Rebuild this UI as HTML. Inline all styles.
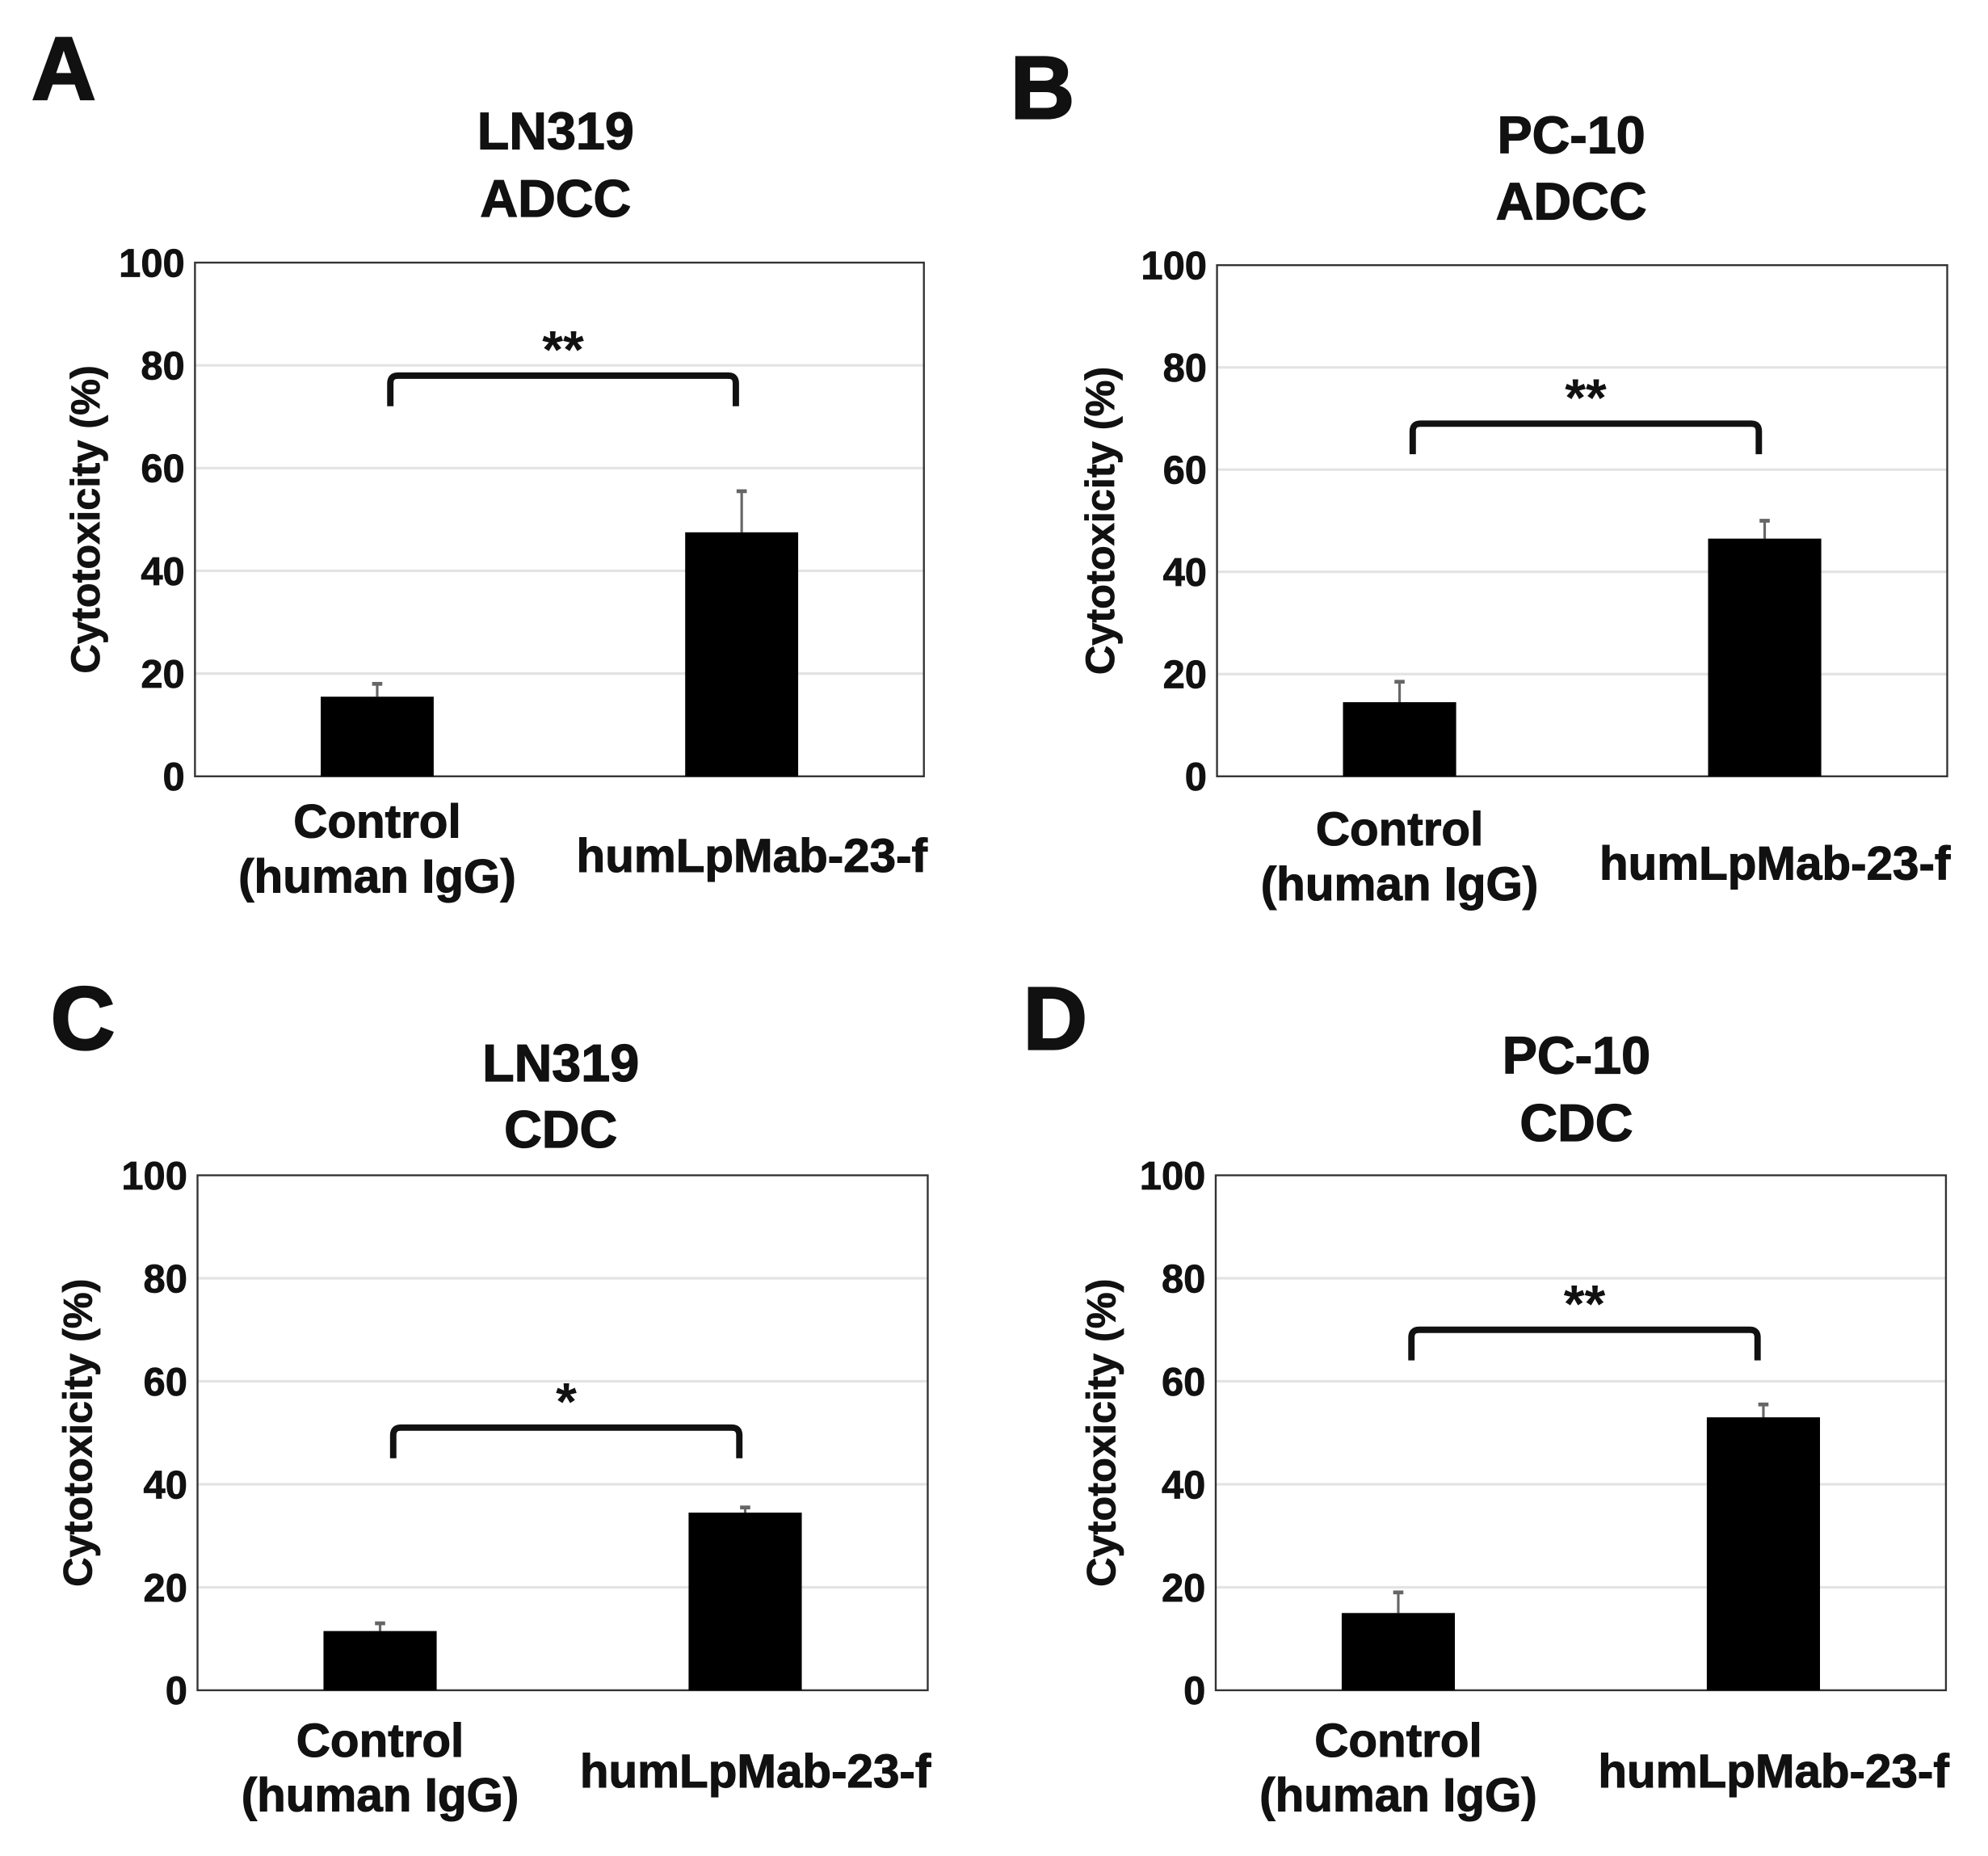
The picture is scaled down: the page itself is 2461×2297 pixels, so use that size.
<!DOCTYPE html>
<html><head><meta charset="utf-8"><style>
html,body{margin:0;padding:0;background:#fff}
svg{display:block}
text{font-family:"Liberation Sans",Arial,sans-serif;font-weight:bold;fill:#111}
</style></head><body>
<svg id="fig" width="2461" height="2297" viewBox="0 0 1560 1456" xmlns="http://www.w3.org/2000/svg"></svg>
<script>
const categories = ["Control|(human IgG)", "humLpMab-23-f"];
const yTicks = [0, 20, 40, 60, 80, 100];
const panelLetters = ["A", "B", "C", "D"];
const panelTitles = [["LN319","ADCC"],["PC-10","ADCC"],["LN319","CDC"],["PC-10","CDC"]];
const meansA = [15.5, 47.5];
const errsA = [2.5, 8];
const meansB = [14.5, 46.5];
const errsB = [4, 3.5];
const meansC = [11.5, 34.5];
const errsC = [1.5, 1];
const meansD = [15, 53];
const errsD = [4, 2.5];
const sigLabels = ["**", "**", "*", "**"];
const sigLevels = [78, 69, 51, 70];

const layout = [
  {x0:153,x1:725,y0:206,y1:609,lx:50,ly:78,tx:436,t1:117,t2:170,yt:68,lab1:657,lab2:700,humY:684},
  {x0:955,x1:1528,y0:208,y1:609,lx:818,ly:93,tx:1233,t1:120,t2:172,yt:864,lab1:663,lab2:706,humY:690},
  {x0:155,x1:728,y0:922,y1:1326,lx:65,ly:823,tx:440,t1:848,t2:900,yt:62,lab1:1378,lab2:1421,humY:1402},
  {x0:954,x1:1527,y0:922,y1:1326,lx:828,ly:823,tx:1237,t1:842,t2:895,yt:865,lab1:1378,lab2:1421,humY:1402}
];
const allMeans=[meansA,meansB,meansC,meansD];
const allErrs=[errsA,errsB,errsC,errsD];
const NS="http://www.w3.org/2000/svg";
const svg=document.getElementById('fig');
function mk(tag,attrs,parent,txt){const e=document.createElementNS(NS,tag);for(const k in attrs)e.setAttribute(k,attrs[k]);if(txt!==undefined)e.textContent=txt;(parent||svg).appendChild(e);return e;}

layout.forEach((L,p)=>{
  const g=mk('g',{});
  
  
  const yS=v=>L.y1-(v/100)*(L.y1-L.y0);
  const w=L.x1-L.x0;
  const xC=i=>L.x0+w*(0.25+0.5*i);
  const bw=w*0.155;
  const letter=mk('text',{x:L.lx,y:L.ly,'text-anchor':'middle','font-size':70,stroke:'#111','stroke-width':1.5},g,panelLetters[p]);
  
  
  const t1=mk('text',{x:L.tx,y:L.t1,'text-anchor':'middle','font-size':41,stroke:'#111','stroke-width':0.8},g,panelTitles[p][0]);
  
  
  const t2=mk('text',{x:L.tx,y:L.t2,'text-anchor':'middle','font-size':41,stroke:'#111','stroke-width':0.8},g,panelTitles[p][1]);
  
  
  yTicks.forEach(t=>{
    if(t>0&&t<100){const gl=mk('line',{x1:L.x0,x2:L.x1,y1:yS(t),y2:yS(t),stroke:'#e3e3e3','stroke-width':2},g);
      
      }
    const tl=mk('text',{x:L.x0-8,y:yS(t)+11,'text-anchor':'end','font-size':31,stroke:'#111','stroke-width':0.5},g,String(t));
    
    
  });
  const frame=mk('rect',{x:L.x0,y:L.y0,width:w,height:L.y1-L.y0,fill:'none',stroke:'#333','stroke-width':1.5},g);
  
  
  const yt=mk('text',{x:0,y:0,'text-anchor':'middle','font-size':32,stroke:'#111','stroke-width':0.5,transform:`translate(${L.yt+10},${(L.y0+L.y1)/2}) rotate(-90)`},g,'Cytotoxicity (%)');
  
  
  allMeans[p].forEach((m,i)=>{
    const e=allErrs[p][i];
    const el=mk('line',{x1:xC(i),x2:xC(i),y1:yS(m),y2:yS(m+e),stroke:'#666','stroke-width':2},g);
    
    
    const ec=mk('line',{x1:xC(i)-4,x2:xC(i)+4,y1:yS(m+e),y2:yS(m+e),stroke:'#666','stroke-width':3},g);
    
    
    const r=mk('rect',{x:xC(i)-bw/2,y:yS(m),width:bw,height:yS(0)-yS(m),fill:'#000'},g);
    
    
  });
  const lines=categories[0].split('|');
  const c1=mk('text',{x:xC(0),y:L.lab1,'text-anchor':'middle','font-size':37,stroke:'#111','stroke-width':0.7},g,lines[0]);
  
  
  const c2=mk('text',{x:xC(0),y:L.lab2,'text-anchor':'middle','font-size':37,stroke:'#111','stroke-width':0.7},g,lines[1]);
  
  
  const c3=mk('text',{x:xC(1)+8,y:L.humY,'text-anchor':'middle','font-size':37,stroke:'#111','stroke-width':0.7},g,categories[1]);
  
  
  const sy=yS(sigLevels[p]);
  const bx0=L.x0+w*0.268, bx1=L.x0+w*0.742;
  const br=mk('path',{d:`M${bx0},${sy+24} L${bx0},${sy+6} Q${bx0},${sy} ${bx0+6},${sy} L${bx1-6},${sy} Q${bx1},${sy} ${bx1},${sy+6} L${bx1},${sy+24}`,fill:'none',stroke:'#111','stroke-width':5},g);
  
  
  const st=mk('text',{x:(bx0+bx1)/2,y:sy-6,'text-anchor':'middle','font-size':42},g,sigLabels[p]);
  
  
});
</script>
</body></html>
